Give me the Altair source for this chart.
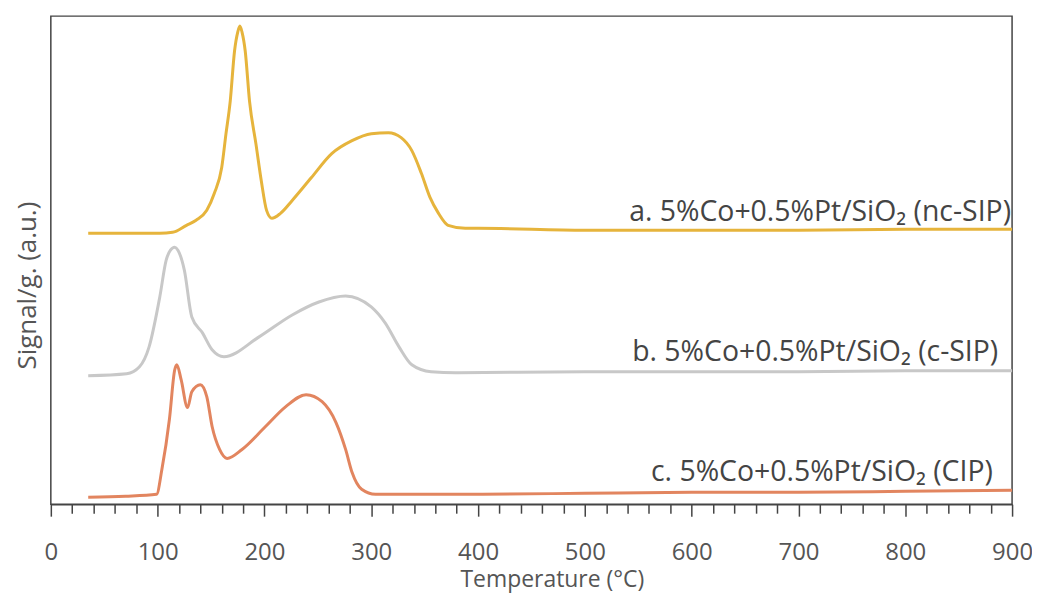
import altair as alt
import pandas as pd

# Series a: 5%Co+0.5%Pt/SiO2 (nc-SIP)
temp_a = [35, 75, 102, 114, 127, 136, 146, 153, 160, 164, 168, 172, 175, 177, 179, 182, 186, 192, 197, 202, 207,
          215, 226, 244, 263, 282, 300, 316, 328, 338, 347, 355, 363, 372, 388, 400, 500, 600, 700, 800, 900]
sig_a = [272, 272, 272, 273, 280, 285, 295, 312, 338, 372, 405, 455, 474, 480, 474, 455, 405, 362, 325, 295, 287,
         292, 305, 328, 352, 365, 372, 373, 368, 355, 332, 308, 292, 280, 277, 277, 275, 275, 275, 276, 276]

# Series b: 5%Co+0.5%Pt/SiO2 (c-SIP)
temp_b = [35, 71, 83, 92, 102, 108, 112, 116, 119, 125, 132, 142, 151, 162, 195, 226, 251, 276, 300, 313, 326,
          338, 356, 379, 500, 600, 700, 800, 900]
sig_b = [129, 131, 138, 158, 208, 245, 255, 258, 255, 235, 188, 172, 155, 148, 168, 190, 203, 209, 198, 182, 158,
         140, 133, 132, 133, 133, 133, 134, 134]

# Series c: 5%Co+0.5%Pt/SiO2 (CIP)
temp_c = [35, 70, 99, 104, 111, 116, 118, 122, 128, 132, 140, 146, 151, 158, 165, 179, 201, 220, 239, 254, 267,
          276, 282, 291, 304, 400, 500, 600, 700, 800, 900]
sig_c = [7, 8, 10, 35, 85, 135, 140, 125, 97, 113, 120, 108, 78, 55, 46, 55, 78, 98, 110, 103, 82,
         55, 32, 15, 10, 10, 11, 12, 12, 13, 14]

series_names = ["a", "b", "c"]
series_colors = ["#E6B43C", "#C8C8C8", "#E2855F"]
label_texts = ["a. 5%Co+0.5%Pt/SiO\u2082 (nc-SIP)", "b. 5%Co+0.5%Pt/SiO\u2082 (c-SIP)", "c. 5%Co+0.5%Pt/SiO\u2082 (CIP)"]
label_x = [899, 887, 882]
label_y = [293, 153, 32]

rows = []
for name, ts, ss in zip(series_names, [temp_a, temp_b, temp_c], [sig_a, sig_b, sig_c]):
    for t, s in zip(ts, ss):
        rows.append({"series": name, "T": t, "signal": s})
df = pd.DataFrame(rows)
labels_df = pd.DataFrame({"text": label_texts, "T": label_x, "signal": label_y})

FONT = "Open Sans"
x_scale = alt.Scale(domain=[0, 900], nice=False)
y_scale = alt.Scale(domain=[0, 490], nice=False)

x_axis = alt.Axis(
    values=list(range(0, 901, 20)),
    tickCount=100,
    labelExpr="datum.value % 100 === 0 ? datum.label : ''",
    tickSize={"condition": {"test": "datum.value % 100 === 0", "value": 12}, "value": 9},
    tickColor="#444444", tickWidth=1.5,
    domainColor="#444444", domainWidth=1.5,
    labelFont=FONT, labelFontSize=24, labelColor="#555555", labelPadding=24,
    labelFlush=False, labelOverlap=False,
    titleFont=FONT, titleFontSize=23, titleColor="#555555", titleFontWeight="normal", titlePadding=5,
    titleX=503, titleAlign="center",
    grid=False,
)
y_axis = alt.Axis(
    labels=False, ticks=False, domain=False, grid=False,
    titleFont=FONT, titleFontSize=26, titleColor="#555555", titleFontWeight="normal", titlePadding=10,
    titleY=270,
)

lines = alt.Chart(df).mark_line(strokeWidth=3, interpolate="monotone").encode(
    x=alt.X("T:Q", scale=x_scale, axis=x_axis, title="Temperature (°C)"),
    y=alt.Y("signal:Q", scale=y_scale, axis=y_axis, title="Signal/g. (a.u.)"),
    color=alt.Color("series:N", scale=alt.Scale(domain=series_names, range=series_colors), legend=None),
    order=alt.Order("T:Q"),
)

labels = alt.Chart(labels_df).mark_text(
    align="right", baseline="middle", font=FONT, fontSize=28.5, color="#444444"
).encode(
    x=alt.X("T:Q", scale=x_scale),
    y=alt.Y("signal:Q", scale=y_scale),
    text="text:N",
)

chart = alt.layer(lines, labels).properties(
    width=965, height=490,
    autosize=alt.AutoSizeParams(type="none"),
    padding={"left": 43, "top": 7, "right": 20, "bottom": 94},
    background="white",
).configure_view(stroke="#444444", strokeWidth=1.5)

chart.save("out.html", embed_options={"renderer": "svg", "actions": False})
